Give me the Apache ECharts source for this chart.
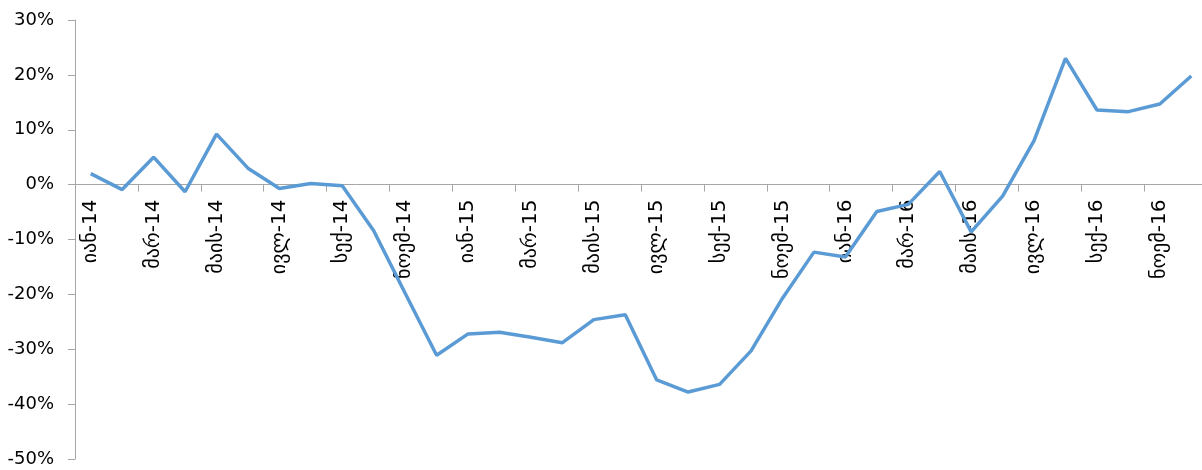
<!DOCTYPE html>
<html>
<head>
<meta charset="utf-8">
<script src="https://cdn.jsdelivr.net/npm/echarts@6/dist/echarts.min.js"></script>
<style>
  html, body { margin: 0; padding: 0; background: #fff; }
  #chart { width: 1202px; height: 470px; }
</style>
</head>
<body>
<div id="chart"></div>
<script>
// თვეები, 2014 იანვარი - 2016 დეკემბერი
const months = ['იან', 'თებ', 'მარ', 'აპრ', 'მაის', 'ივნ', 'ივლ', 'აგვ', 'სექ', 'ოქტ', 'ნოემ', 'დეკ'];
const years = ['14', '15', '16'];
const categories = [];
years.forEach(y => months.forEach(m => categories.push(m + '-' + y)));

// მნიშვნელობები, %
const values2014 = [2.0, -0.9, 5.0, -1.3, 9.2, 3.0, -0.7, 0.2, -0.2, -8.4, -19.8, -31.1];
const values2015 = [-27.2, -26.9, -27.8, -28.8, -24.6, -23.7, -35.6, -37.8, -36.4, -30.3, -20.7, -12.3];
const values2016 = [-13.2, -4.9, -3.6, 2.4, -8.6, -2.1, 8.0, 23.0, 13.6, 13.3, 14.7, 19.8];
const values = values2014.concat(values2015, values2016);

const yTicks = { min: -50, max: 30, interval: 10 };

const gridTop = 20, gridHeight = 439;
// x ღერძი 0%-ზე გადის
const zeroOffset = -gridHeight * (0 - yTicks.min) / (yTicks.max - yTicks.min);

const chart = echarts.init(document.getElementById('chart'));
chart.setOption({
  animation: false,
  grid: {
    left: 75,
    top: gridTop,
    width: 1132,
    height: gridHeight,
    containLabel: false,
    outerBoundsMode: 'none'
  },
  xAxis: {
    type: 'category',
    data: categories,
    boundaryGap: true,
    offset: zeroOffset,
    axisLine: { onZero: false, lineStyle: { color: '#A6A6A6', width: 1 } },
    axisTick: { show: true, interval: 1, length: 7, lineStyle: { color: '#A6A6A6' } },
    axisLabel: {
      interval: 1,
      rotate: 90,
      margin: 15,
      color: '#000',
      fontFamily: 'DejaVu Sans',
      fontSize: 20
    },
    splitLine: { show: false }
  },
  yAxis: {
    type: 'value',
    min: yTicks.min,
    max: yTicks.max,
    interval: yTicks.interval,
    axisLine: { show: true, lineStyle: { color: '#A6A6A6', width: 1 } },
    axisTick: { show: true, length: 7, lineStyle: { color: '#A6A6A6' } },
    axisLabel: {
      formatter: '{value}%',
      margin: 21,
      color: '#000',
      fontFamily: 'DejaVu Sans',
      fontSize: 18
    },
    splitLine: { show: false }
  },
  series: [{
    type: 'line',
    data: values,
    showSymbol: false,
    symbol: 'none',
    lineStyle: { color: '#5B9BD5', width: 3.5 },
    itemStyle: { color: '#5B9BD5' }
  }]
});
</script>
</body>
</html>
